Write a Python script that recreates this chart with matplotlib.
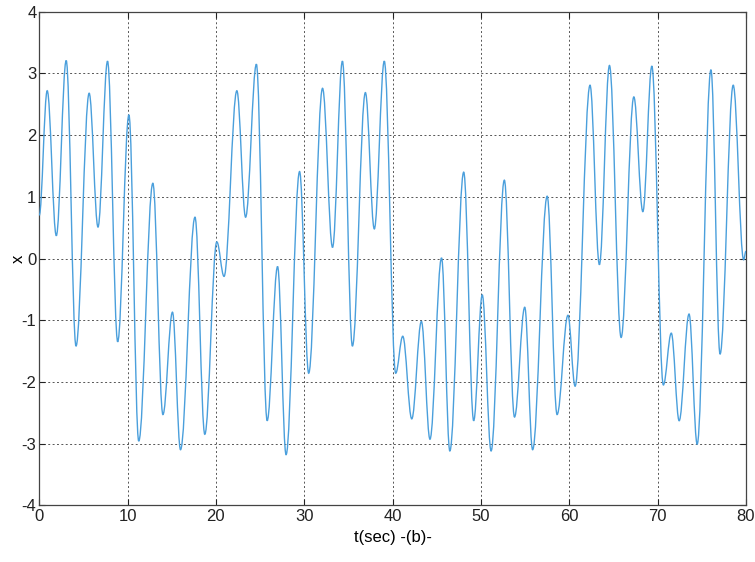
import matplotlib
matplotlib.use("Agg")
import matplotlib.pyplot as plt
from matplotlib.path import Path
from matplotlib.patches import PathPatch

# turning points of the response (time in sec, amplitude)
t_pts = [0.0, 0.9, 1.93, 3.05, 4.16, 5.65, 6.65, 7.73, 8.88, 10.15,
         11.26, 12.86, 14.0, 15.08, 15.99, 17.63, 18.74, 20.1, 20.92, 22.37,
         23.36, 24.58, 25.8, 26.98, 27.94, 29.47, 30.5, 32.07, 33.2, 34.32,
         35.45, 36.92, 37.93, 39.06, 40.35, 41.15, 42.17, 43.26, 44.23, 45.54,
         46.48, 48.05, 49.18, 50.15, 51.15, 52.65, 53.8, 54.96, 55.85, 57.5,
         58.62, 59.85, 60.66, 62.35, 63.41, 64.55, 65.87, 67.31, 68.33, 69.35,
         70.65, 71.55, 72.44, 73.56, 74.48, 76.04, 77.07, 78.56, 79.74, 80.0]
x_pts = [0.7, 2.72, 0.37, 3.21, -1.42, 2.68, 0.51, 3.2, -1.35, 2.33,
         -2.96, 1.22, -2.53, -0.87, -3.1, 0.67, -2.85, 0.27, -0.29, 2.72,
         0.67, 3.15, -2.63, -0.13, -3.18, 1.41, -1.86, 2.76, 0.18, 3.2,
         -1.42, 2.69, 0.48, 3.2, -1.86, -1.26, -2.6, -1.02, -2.93, 0.01,
         -3.12, 1.4, -2.63, -0.59, -3.12, 1.27, -2.57, -0.79, -3.1, 1.01,
         -2.53, -0.92, -2.07, 2.81, -0.1, 3.13, -1.28, 2.62, 0.76, 3.12,
         -2.05, -1.21, -2.63, -0.9, -3.01, 3.06, -1.55, 2.81, -0.02, 0.12]

x_ticks = [0, 10, 20, 30, 40, 50, 60, 70, 80]
y_ticks = [-4, -3, -2, -1, 0, 1, 2, 3, 4]

plt.rcParams['font.family'] = ['Liberation Sans', 'DejaVu Sans']
plt.rcParams['axes.unicode_minus'] = False

fig = plt.figure(figsize=(7.55, 5.62), dpi=100)
ax = fig.add_axes([0.052, 0.101, 0.936, 0.878])

# smooth curve: cubic Bezier pieces with flat tangents at each turning point
k = 0.3642
verts = [(t_pts[0], x_pts[0])]
codes = [Path.MOVETO]
for i in range(1, len(t_pts)):
    t0, y0 = t_pts[i - 1], x_pts[i - 1]
    t1, y1 = t_pts[i], x_pts[i]
    dt = t1 - t0
    verts += [(t0 + k * dt, y0), (t1 - k * dt, y1), (t1, y1)]
    codes += [Path.CURVE4] * 3
ax.add_patch(PathPatch(Path(verts, codes), fill=False,
                       edgecolor='#4a9fdc', lw=1.0, zorder=3))

ax.set_xlim(0, 80)
ax.set_ylim(-4, 4)
ax.set_xticks(x_ticks)
ax.set_yticks(y_ticks)
ax.grid(True, color='#555555', linestyle=(0, (2, 2.5)), lw=0.7)
ax.tick_params(direction='in', top=True, right=True, labelsize=12,
               length=4, pad=3, colors='#222222')
ax.tick_params(axis='y', pad=2)
for s in ax.spines.values():
    s.set_color('#444444')
    s.set_linewidth(0.9)

ax.set_xlabel('t(sec) -(b)-', fontsize=12, labelpad=4)
ax.set_ylabel('x', fontsize=12)
ax.yaxis.set_label_coords(-0.019, 0.5)

fig.savefig('out.png', dpi=100)
